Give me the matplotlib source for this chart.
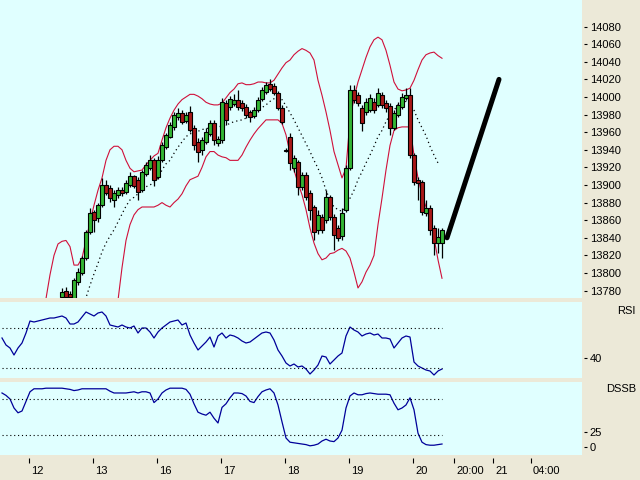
"""Intraday candlestick chart with Bollinger bands, RSI and DSSB panels."""
import numpy as np
import matplotlib
matplotlib.use("Agg")
import matplotlib.pyplot as plt
import matplotlib.transforms as mtransforms

plt.rcParams['font.family'] = ['Liberation Sans', 'DejaVu Sans']

nan = np.nan

# --- price bars (one bar per hour) ---
opens = [13760, 13756, 13750, 13745, 13740, 13736, 13740, 13744, 13748, 13746, 13752, 13758, 13755, 13762, 13765,
         13773, 13780, 13776, 13772, 13790, 13800, 13817, 13847, 13869, 13862, 13877, 13900, 13897, 13883, 13889,
         13894, 13892, 13900, 13910, 13906, 13894, 13913, 13919, 13928, 13909, 13928, 13943, 13955, 13966, 13977,
         13982, 13973, 13983, 13965, 13949, 13940, 13949, 13958, 13970, 13948, 13951, 13993, 13989, 13992, 13997,
         13993, 13989, 13983, 13978, 13985, 13998, 14006, 14015, 14012, 14005, 13988, 13940, 13955, 13919, 13926,
         13898, 13911, 13891, 13875, 13849, 13864, 13860, 13886, 13864, 13851, 13842, 13872, 13919, 14008, 14002,
         13988, 13983, 13985, 13994, 13991, 14002, 13993, 13990, 13965, 13980, 13989, 13999, 14002, 13934, 13906,
         13903, 13868, 13874, 13851, 13834, 13834]
highs = [13764, 13758, 13752, 13748, 13744, 13742, 13746, 13750, 13752, 13754, 13760, 13762, 13764, 13768, 13772,
         13783, 13784, 13780, 13794, 13806, 13819, 13849, 13874, 13872, 13880, 13908, 13906, 13900, 13894, 13898,
         13898, 13906, 13915, 13911, 13909, 13917, 13926, 13934, 13931, 13933, 13949, 13959, 13972, 13983, 13988,
         13985, 13983, 13990, 13968, 13953, 13955, 13965, 13974, 13974, 13956, 13999, 13997, 14001, 14003, 14008,
         13997, 13992, 13985, 13989, 14000, 14011, 14017, 14020, 14016, 14007, 13991, 13942, 13959, 13934, 13928,
         13915, 13915, 13894, 13877, 13872, 13867, 13894, 13889, 13867, 13855, 13874, 13923, 14014, 14014, 14006,
         13991, 13999, 14003, 13999, 14010, 14006, 13997, 13993, 13985, 13994, 14005, 14010, 14010, 13936, 13909,
         13906, 13883, 13877, 13855, 13851, 13851]
lows = [13754, 13748, 13742, 13738, 13734, 13733, 13738, 13741, 13744, 13744, 13750, 13752, 13753, 13758, 13762,
        13771, 13771, 13770, 13770, 13786, 13798, 13815, 13844, 13847, 13858, 13875, 13889, 13881, 13875, 13885,
        13888, 13890, 13898, 13897, 13883, 13892, 13910, 13917, 13899, 13907, 13926, 13941, 13953, 13963, 13974,
        13969, 13970, 13960, 13940, 13926, 13934, 13947, 13956, 13945, 13944, 13948, 13968, 13985, 13990, 13985,
        13984, 13976, 13972, 13976, 13983, 13995, 14003, 14007, 14002, 13985, 13969, 13938, 13917, 13915, 13889,
        13894, 13883, 13860, 13837, 13844, 13845, 13857, 13860, 13826, 13836, 13837, 13869, 13917, 13993, 13990,
        13961, 13980, 13983, 13982, 13989, 13988, 13983, 13957, 13963, 13977, 13986, 13997, 13931, 13900, 13883,
        13866, 13865, 13843, 13820, 13823, 13817]
closes = [13756, 13750, 13745, 13740, 13736, 13740, 13744, 13748, 13746, 13752, 13758, 13755, 13762, 13765, 13770,
          13778, 13773, 13773, 13792, 13801, 13817, 13847, 13868, 13860, 13877, 13900, 13891, 13885, 13891, 13894,
          13891, 13902, 13910, 13899, 13892, 13915, 13923, 13928, 13906, 13928, 13945, 13957, 13968, 13980, 13982,
          13972, 13979, 13963, 13945, 13938, 13951, 13960, 13970, 13951, 13952, 13994, 13974, 13998, 13997, 13989,
          13988, 13980, 13977, 13985, 13997, 14008, 14014, 14009, 14005, 13988, 13972, 13939, 13925, 13931, 13898,
          13911, 13886, 13872, 13847, 13866, 13849, 13886, 13864, 13843, 13840, 13868, 13919, 14008, 13997, 13993,
          13970, 13994, 13999, 13985, 14005, 13991, 13988, 13965, 13982, 13991, 14000, 14002, 13934, 13903, 13902,
          13869, 13874, 13849, 13834, 13841, 13849]

# --- Bollinger bands and moving average ---
upper_band = [nan] * 10 + [
    13760, 13771, 13798, 13820, 13833, 13836, 13837, 13830, 13809, 13809,
    13817, 13837, 13858, 13877, 13894, 13908, 13928, 13940, 13944, 13944,
    13940, 13928, 13919, 13915, 13916, 13917, 13923, 13928, 13933, 13936,
    13951, 13965, 13976, 13985, 13992, 13997, 14000, 14003, 14003, 14001,
    13998, 13994, 13992, 13991, 13991, 13993, 13999, 14005, 14009, 14015,
    14016, 14014, 14014, 14015, 14017, 14017, 14016, 14016, 14019, 14026,
    14033, 14039, 14042, 14048, 14052, 14055, 14053, 14050, 14042, 14019,
    14002, 13983, 13962, 13938, 13923, 13908, 13919, 13974, 13999, 14017,
    14031, 14045, 14057, 14065, 14068, 14065, 14053, 14036, 14017, 14009,
    14007, 14008, 14010, 14019, 14031, 14042, 14048, 14050, 14051, 14047,
    14044]
lower_band = [nan] * 28 + [
    13755, 13769,
    13806, 13837, 13855, 13866, 13872, 13875, 13875, 13875, 13875, 13877,
    13880, 13877, 13875, 13880, 13884, 13890, 13899, 13906, 13908, 13910,
    13920, 13932, 13938, 13938, 13934, 13932, 13931, 13928, 13928, 13928,
    13934, 13943, 13951, 13958, 13964, 13969, 13974, 13974, 13974, 13974,
    13970, 13957, 13936, 13917, 13902, 13889, 13872, 13851, 13834, 13822,
    13815, 13817, 13822, 13823, 13826, 13828, 13825, 13817, 13801, 13783,
    13790, 13801, 13809, 13820, 13855, 13885, 13917, 13945, 13962, 13965,
    13966, 13966, 13966, 13934, 13908, 13889, 13875, 13860, 13840, 13815,
    13794]
mid_band = [nan] * 20 + [
    13760, 13772, 13786, 13799, 13811, 13824, 13834, 13842, 13849, 13858,
    13867, 13876, 13883, 13886, 13890, 13893, 13898, 13900, 13903, 13908,
    13917, 13924, 13928, 13936, 13943, 13949, 13955, 13958, 13960, 13961,
    13963, 13964, 13965, 13965, 13966, 13967, 13968, 13970, 13972, 13973,
    13974, 13976, 13980, 13983, 13985, 13988, 13991, 13995, 13998, 13999,
    13997, 13990, 13982, 13974, 13965, 13956, 13947, 13938, 13928, 13919,
    13908, 13894, 13883, 13875, 13872, 13870, 13875, 13885, 13894, 13906,
    13915, 13925, 13934, 13944, 13955, 13962, 13972, 13980, 13985, 13991,
    13993, 13995, 13993, 13985, 13974, 13965, 13956, 13944, 13934, 13925,
    nan]

# hand-drawn trend line
trend_x = [111.25, 124.25]
trend_y = [13840, 14020]

# --- oscillators ---
rsi = [60, 53, 50, 43, 50, 55, 65, 77, 76, 77,
       78, 79, 80, 80, 81, 82, 80, 74, 74, 76,
       81, 86, 84, 82, 85, 86, 82, 73, 72, 71,
       73, 71, 70, 72, 65, 70, 70, 66, 60, 66,
       70, 73, 76, 77, 78, 73, 75, 63, 55, 48,
       52, 56, 61, 51, 62, 65, 60, 63, 62, 60,
       57, 55, 56, 59, 62, 65, 66, 65, 58, 48,
       42, 35, 32, 34, 31, 32, 29, 24, 28, 33,
       42, 41, 34, 38, 42, 45, 62, 71, 68, 66,
       62, 64, 65, 63, 64, 60, 60, 59, 50, 55,
       60, 62, 61, 36, 32, 30, 28, 27, 23, 27,
       29]
dssb = [90, 86, 80, 65, 57, 60, 76, 92, 97, 97,
        97, 98, 98, 98, 98, 98, 97, 96, 94, 95,
        97, 97, 97, 97, 97, 97, 97, 93, 90, 90,
        90, 90, 91, 92, 90, 92, 92, 90, 74, 80,
        90, 95, 98, 98, 98, 98, 96, 88, 72, 58,
        55, 53, 58, 48, 40, 66, 72, 82, 90, 90,
        89, 85, 76, 74, 84, 92, 95, 97, 90, 70,
        42, 15, 8, 7, 6, 5, 4, 2, 3, 5,
        10, 13, 10, 9, 15, 28, 65, 85, 90, 87,
        87, 89, 90, 89, 88, 88, 88, 87, 73, 62,
        65, 70, 82, 62, 23, 8, 4, 3, 3, 4,
        5]
rsi_levels = [30, 70]
dssb_levels = [20, 80]

time_ticks = [6.75, 22.75, 38.75, 54.75, 70.75, 86.75, 102.75, 113, 122.75, 132.25]
time_labels = ["12", "13", "16", "17", "18", "19", "20", "20:00", "21", "04:00"]

FIG_BG = "#ece9d8"
PANEL_BG = "#e0ffff"
GREEN = "#33b533"
RED = "#a81818"
BAND = "#d0103a"
BLUE = "#000099"
DOTS = (0, (1, 2.5))

bars = np.arange(len(closes))
o = np.array(opens, dtype=float)
h = np.array(highs, dtype=float)
l = np.array(lows, dtype=float)
c = np.array(closes, dtype=float)

fig = plt.figure(figsize=(6.4, 4.8), dpi=100, facecolor=FIG_BG)
W = 582 / 640
ax_p = fig.add_axes([0, 182 / 480, W, 298 / 480])
ax_r = fig.add_axes([0, 102 / 480, W, 76 / 480])
ax_d = fig.add_axes([0, 25 / 480, W, 73 / 480])

for ax in (ax_p, ax_r, ax_d):
    ax.set_facecolor(PANEL_BG)
    ax.set_xlim(-0.5, 145)
    for s in ax.spines.values():
        s.set_visible(False)
    ax.yaxis.tick_right()
    ax.spines["right"].set_position(("outward", 1.5))
    ax.tick_params(axis="y", direction="out", length=2.5, width=0.8, pad=1.5, labelsize=8)
    ax.tick_params(axis="x", bottom=False, labelbottom=False)

# candles
up = c >= o
ax_p.vlines(bars, l, h, color="black", lw=0.9, zorder=2)
ax_p.bar(bars, np.abs(c - o), bottom=np.minimum(o, c), width=0.78,
         color=np.where(up, GREEN, RED), edgecolor="black", linewidth=0.8, zorder=3)
ax_p.plot(bars, upper_band, color=BAND, lw=0.8, zorder=1)
ax_p.plot(bars, lower_band, color=BAND, lw=0.8, zorder=1)
ax_p.plot(bars, mid_band, color="black", lw=0.9, linestyle=DOTS, zorder=1)
ax_p.plot(trend_x, trend_y, color="black", lw=3.6, solid_capstyle="round", zorder=4)
ax_p.set_ylim(13771.6, 14110.2)
ax_p.set_yticks(np.arange(13780, 14081, 20))

# RSI
ax_r.plot(bars, rsi, color=BLUE, lw=0.9)
ax_r.hlines(rsi_levels, bars[0], bars[-1], colors="black", linestyles=DOTS, lw=0.8)
ax_r.set_ylim(20, 96)
ax_r.set_yticks([40])

# DSSB
ax_d.plot(bars, dssb, color=BLUE, lw=0.9)
ax_d.hlines(dssb_levels, bars[0], bars[-1], colors="black", linestyles=DOTS, lw=0.8)
ax_d.set_ylim(-13.3, 108.3)
ax_d.set_yticks([0, 25])

# time axis under the bottom panel
ax_d.spines["bottom"].set_position(("outward", 2))
ax_d.tick_params(axis="x", bottom=True, labelbottom=True, direction="out",
                 length=3.6, width=0.8, pad=2.5, labelsize=8)
ax_d.set_xticks(time_ticks)
ax_d.set_xticklabels(time_labels, ha="left")
shift = mtransforms.ScaledTranslation(2 / 100, 0, fig.dpi_scale_trans)
for lab in ax_d.get_xticklabels():
    lab.set_transform(lab.get_transform() + shift)

fig.text(636 / 640, 1 - 311 / 480, "RSI", ha="right", va="center", fontsize=8)
fig.text(636 / 640, 1 - 389 / 480, "DSSB", ha="right", va="center", fontsize=8)

fig.savefig("out.png", dpi=100, facecolor=fig.get_facecolor())
plt.close(fig)
print("Saved out.png")
